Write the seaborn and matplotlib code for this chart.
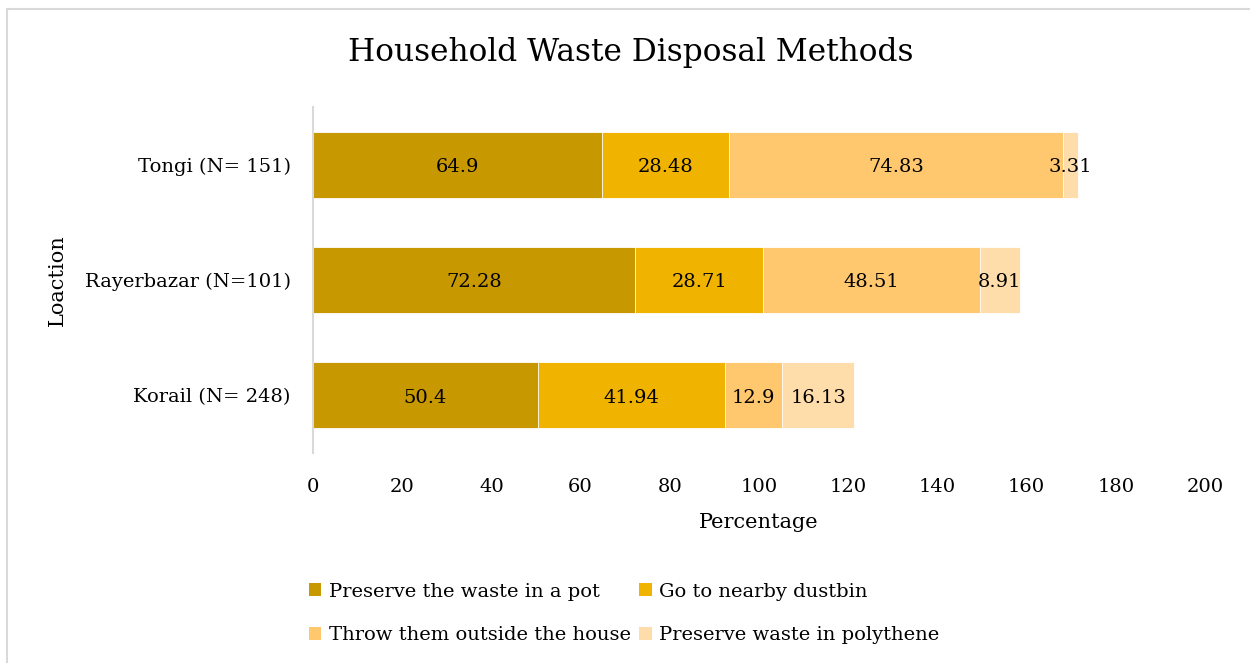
import numpy as np
import pandas as pd
import matplotlib
matplotlib.use("Agg")
import matplotlib.pyplot as plt
import seaborn as sns
from matplotlib.patches import Patch, Rectangle

locations = ["Tongi (N= 151)", "Rayerbazar (N=101)", "Korail (N= 248)"]
methods = ["Preserve the waste in a pot", "Go to nearby dustbin",
           "Throw them outside the house", "Preserve waste in polythene"]
pot = [64.9, 72.28, 50.4]
dustbin = [28.48, 28.71, 41.94]
outside = [74.83, 48.51, 12.9]
polythene = [3.31, 8.91, 16.13]
colors = ["#C89800", "#F0B400", "#FFC86E", "#FFDDAA"]

sns.set_theme(style="white")
plt.rcParams["font.family"] = ["DejaVu Serif"]
plt.rcParams["text.color"] = "black"
plt.rcParams["xtick.color"] = "black"
plt.rcParams["ytick.color"] = "black"

series = [pot, dustbin, outside, polythene]
df = pd.DataFrame({"Location": locations})
for name, vals in zip(methods, series):
    df[name] = vals
cum = df[methods].cumsum(axis=1)
starts = cum - df[methods]

fig = plt.figure(figsize=(12.5, 6.63), dpi=100)
ax = fig.add_axes([313 / 1250, 1 - 453 / 663, (1205 - 313) / 1250, (453 - 107) / 663])

# stacked bars: draw cumulative totals from the widest down
for name, col in reversed(list(zip(methods, colors))):
    sns.barplot(data=cum.assign(Location=df["Location"]), x=name, y="Location",
                order=locations, color=col, width=0.57, orient="h",
                edgecolor="white", linewidth=0.6, ax=ax, saturation=1)

for i in range(len(locations)):
    for name in methods:
        v = df.loc[i, name]
        cx = starts.loc[i, name] + v / 2
        ax.text(cx, i + 0.02, f"{v:g}", ha="center", va="center", fontsize=14, color="black")

ax.set_xlim(0, 200)
ax.set_ylim(2.5, -0.5)
ax.set_xticks(np.arange(0, 201, 20))
ax.tick_params(axis="x", length=0, pad=18, labelsize=14, labelcolor="black")
ax.tick_params(axis="y", length=0, pad=16, labelsize=14, labelcolor="black")
for s in ["top", "right", "bottom"]:
    ax.spines[s].set_visible(False)
ax.spines["left"].set_color("#D9D9D9")
ax.spines["left"].set_linewidth(1.5)
ax.set_xlabel("")
ax.set_ylabel("")

fig.text(631 / 1250, 1 - 53 / 663, "Household Waste Disposal Methods",
         ha="center", va="center", fontsize=22.5, color="black")
fig.text(759 / 1250, 1 - 522 / 663, "Percentage", ha="center", va="center",
         fontsize=15, color="black")
fig.text(57 / 1250, 1 - 280 / 663, "Loaction", ha="center", va="center",
         rotation=90, fontsize=15, color="black")

# legend filled row by row: pot, dustbin / outside, polythene
order = [0, 2, 1, 3]
handles = [Patch(facecolor=colors[k], edgecolor="none") for k in order]
labels = [methods[k] for k in order]
fig.legend(handles, labels, ncol=2, loc="upper left",
           bbox_to_anchor=(299 / 1250, 1 - 573 / 663), frameon=False,
           fontsize=14, handlelength=0.65, handleheight=0.65, handletextpad=0.4,
           columnspacing=0.4, labelspacing=1.3, borderpad=0, labelcolor="black")

fig.patches.append(Rectangle((6.5 / 1250, -0.1), 1.2, 1 - 9.5 / 663 + 0.1,
                             transform=fig.transFigure, fill=False,
                             edgecolor="#D9D9D9", linewidth=1.5))

fig.savefig("out.png", dpi=100)
